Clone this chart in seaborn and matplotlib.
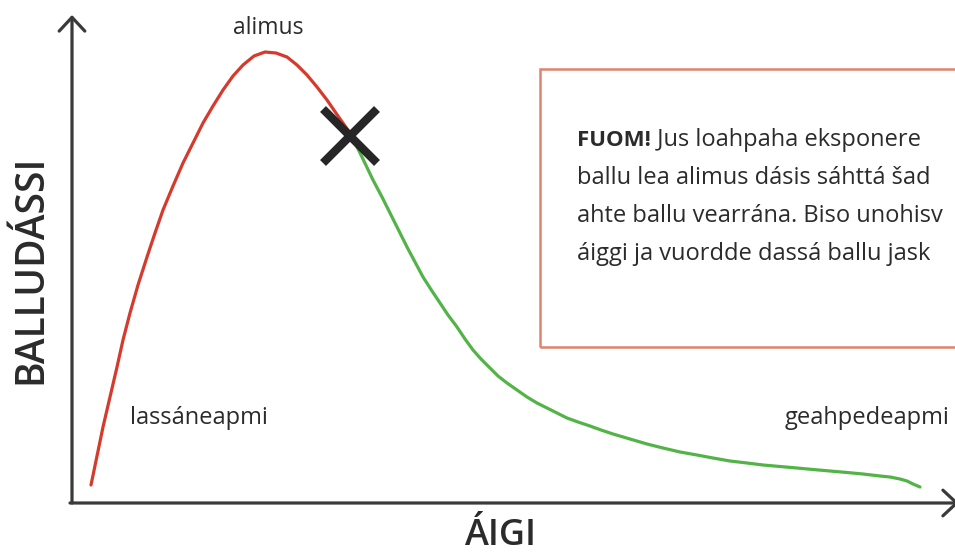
import pandas as pd
import seaborn as sns
import matplotlib.pyplot as plt
from matplotlib.patches import Rectangle

# yield curve (time 0-883, yield 0-503, arbitrary units)
rise_time = [19, 25, 31, 38, 45, 51, 58, 66, 75, 83, 91, 101, 111, 121, 131, 141,
             151, 161, 171, 182, 193, 204, 215, 225, 235, 245, 255, 266, 278]
rise_yield = [18, 47, 76, 106, 136, 163, 190, 218, 246, 270, 293, 317, 340, 360, 380, 397,
              413, 427, 438, 447, 451, 450, 446, 438, 428, 416, 403, 387, 370]

fall_time = [278, 284, 290, 301, 310, 318, 327, 335, 343, 351, 360, 368, 376, 385, 393, 401,
             409, 418, 426, 435, 445, 455, 465, 475, 485, 495, 506, 518, 529, 541, 558, 575,
             591, 608, 625, 641, 658, 675, 691, 708, 725, 741, 758, 775, 791, 808, 818, 828,
             835, 841, 848]
fall_yield = [370, 358, 346, 323, 306, 290, 272, 256, 241, 226, 212, 200, 188, 176, 164, 153,
              144, 135, 127, 120, 113, 106, 100, 95, 90, 85, 81, 77, 73, 69, 64, 59,
              55, 51, 48, 45, 42, 40, 38, 36.5, 35, 33.5, 32, 30.5, 29, 27, 26, 24,
              22, 19, 16]

stop_time = 278
stop_yield = 367

peak_label = "alimus"
rise_label = "lassáneapmi"
fall_label = "geahpedeapmi"
x_title = "ÁIGI"
y_title = "BALLUDÁSSI"
note_bold = "FUOM!"
note_lines = [" Jus loahpaha eksponere",
              "ballu lea alimus dásis sáhttá šad",
              "ahte ballu vearrána. Biso unohisv",
              "áiggi ja vuordde dassá ballu jask"]

red = "#d63a2c"
green = "#52b447"
ink = "#2b2b2b"
axis_col = "#3a3a3a"
box_col = "#e0836c"

df = pd.DataFrame({
    "time": rise_time + fall_time,
    "yield": rise_yield + fall_yield,
    "phase": ["rise"] * len(rise_time) + ["fall"] * len(fall_time),
})

sns.set_theme(style="white")
plt.rcParams["font.family"] = ["Open Sans", "DejaVu Sans"]

fig = plt.figure(figsize=(9.55, 5.54), dpi=100)
ax = fig.add_axes([72 / 955, 51 / 554, 883 / 955, 503 / 554])

sns.lineplot(data=df, x="time", y="yield", hue="phase", sort=False, estimator=None,
             palette={"rise": red, "fall": green}, lw=2.3, legend=False, ax=ax,
             solid_joinstyle="round")

ax.plot([stop_time], [stop_yield], marker="x", markersize=39, mew=6,
        color="#262626", ls="none", zorder=5)

ax.set_xlim(0, 883)
ax.set_ylim(0, 503)
ax.set_xticks([])
ax.set_yticks([])
sns.despine(ax=ax, left=True, bottom=True)

# axis arrows
arrow = dict(arrowstyle="->,head_length=0.45,head_width=0.42", lw=2.3,
             color=axis_col, shrinkA=0, shrinkB=0, mutation_scale=22)
ax.annotate("", xy=(0, 488), xytext=(0, 0), arrowprops=arrow, annotation_clip=False)
ax.annotate("", xy=(887, 0), xytext=(-2, 0), arrowprops=arrow, annotation_clip=False)

ax.set_xlabel(x_title, fontsize=26, fontweight="semibold", color=ink, va="baseline")
ax.xaxis.set_label_coords(0.485, -0.084)
ax.set_ylabel(y_title, fontsize=28, fontweight="semibold", color=ink, va="center")
ax.yaxis.set_label_coords(-0.046, 0.465)

ax.text(196, 469, peak_label, fontsize=16.5, color=ink, ha="center", va="baseline")
ax.text(58, 79, rise_label, fontsize=17, color=ink, ha="left", va="baseline")
ax.text(713, 79, fall_label, fontsize=17, color=ink, ha="left", va="baseline")

# note box, runs off the right edge
ax.add_patch(Rectangle((468, 156), 600, 278, fill=False, ec=box_col, lw=1.8,
                       clip_on=False))
line_y = [357, 319, 281, 243]
bold = ax.text(505, line_y[0], note_bold, fontsize=16, fontweight="bold",
               color=ink, ha="left", va="baseline")
ax.annotate(note_lines[0], xy=(1, line_y[0]), xycoords=(bold, "data"),
            fontsize=17, color=ink, ha="left", va="baseline", annotation_clip=False)
for txt, y in zip(note_lines[1:], line_y[1:]):
    ax.text(505, y, txt, fontsize=17, color=ink, ha="left", va="baseline")

plt.savefig("out.png", dpi=100)
